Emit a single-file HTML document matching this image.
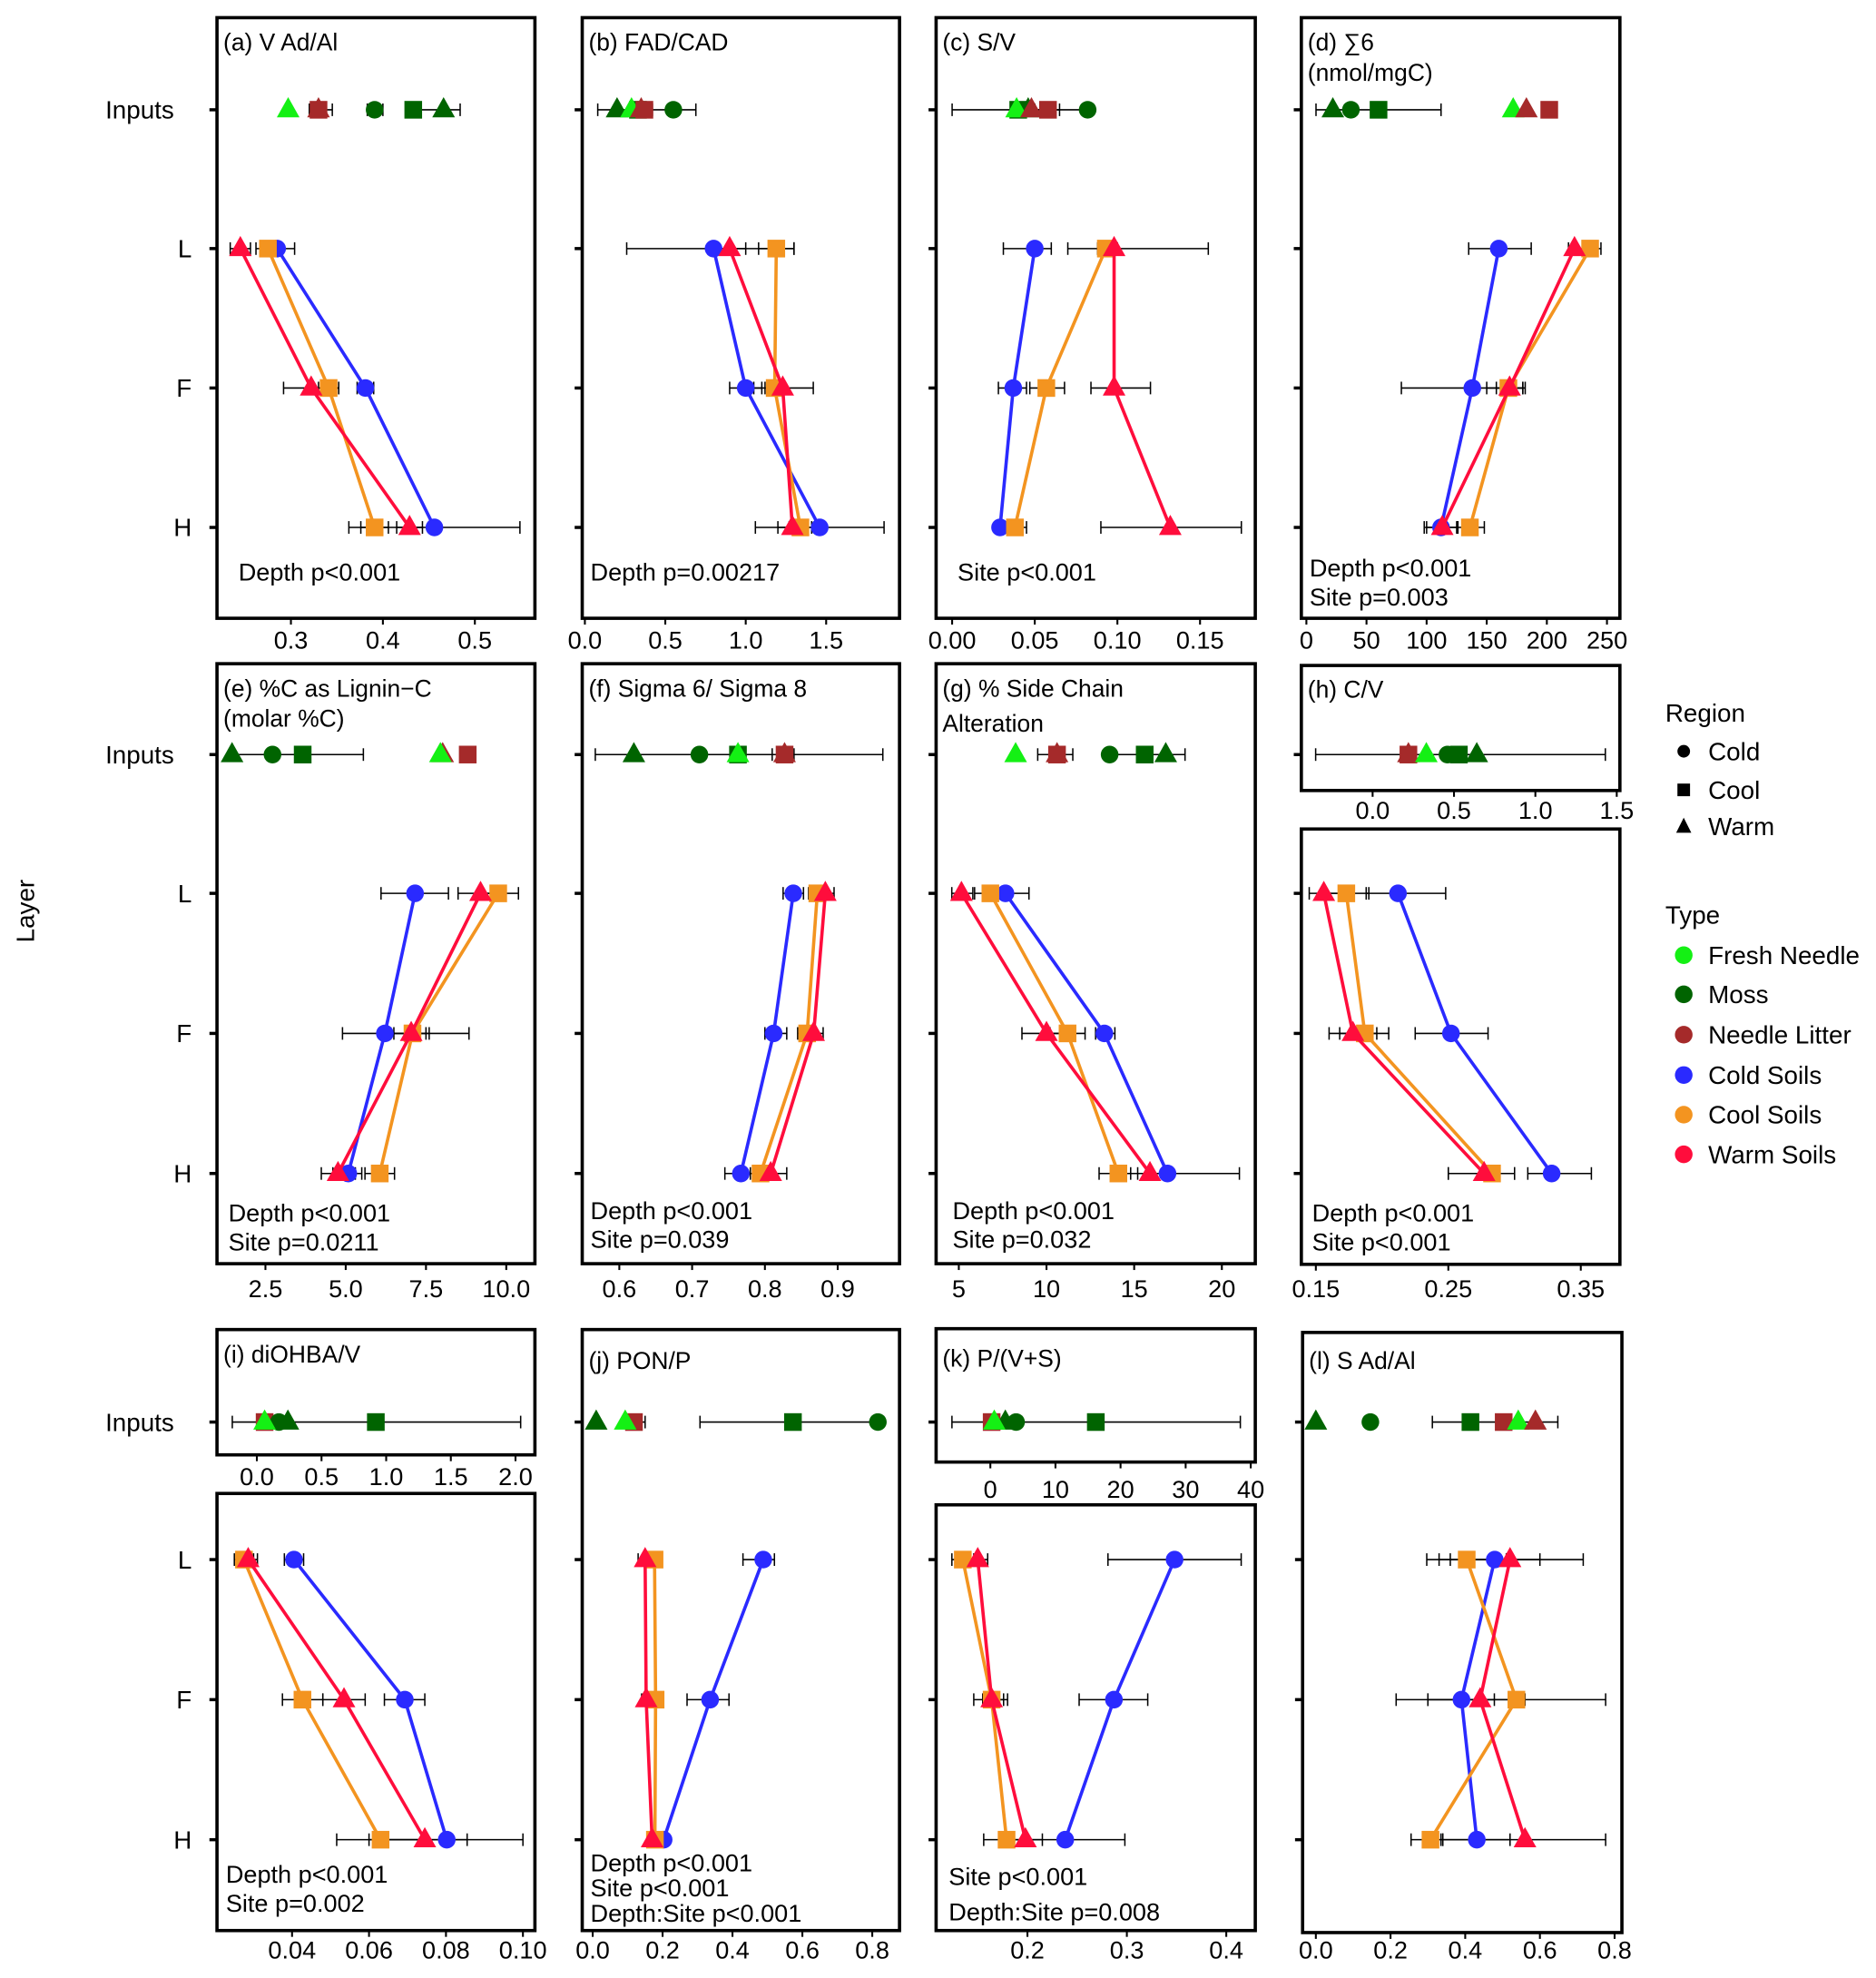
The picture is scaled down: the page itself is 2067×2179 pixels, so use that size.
<!DOCTYPE html>
<html><head><meta charset="utf-8"><style>
html,body{margin:0;padding:0;background:#fff;}
svg{display:block;font-family:"Liberation Sans",Arial,sans-serif;}
</style></head><body>
<svg id="chart" width="2067" height="2179" viewBox="0 0 1487 1567.6" preserveAspectRatio="none" xmlns="http://www.w3.org/2000/svg"></svg>
<script>
// ---------- DATA ----------
const aTicks=[0.3,0.4,0.5];
const aIn=[['M','cold',0.391,0.383,0.40],['M','cool',0.433,null,null],['M','warm',0.466,0.433,0.484],['NL','cool',0.33,0.32,0.345],['FN','warm',0.297,null,null],['NL','warm',0.33,null,null]];
const aCold=[0.285,0.381,0.456]; const aColdErr=[[0.27,0.304],[0.372,0.39],[0.363,0.549]];
const aCool=[0.275,0.341,0.391]; const aCoolErr=[[0.262,0.288],[0.33,0.352],[0.376,0.406]];
const aWarm=[0.245,0.322,0.429]; const aWarmErr=[[0.234,0.256],[0.292,0.352],[0.415,0.443]];

const bTicks=[0.0,0.5,1.0,1.5];
const bIn=[['M','cold',0.55,0.4,0.69],['M','cool',0.33,null,null],['M','warm',0.2,0.08,0.3],['FN','warm',0.29,null,null],['NL','cool',0.37,null,null],['NL','warm',0.35,0.3,0.42]];
const bCold=[0.8,1.0,1.46]; const bColdErr=[[0.26,1.3],[0.9,1.1],[1.06,1.86]];
const bCool=[1.19,1.18,1.34]; const bCoolErr=[[1.08,1.3],[1.12,1.24],[1.27,1.41]];
const bWarm=[0.9,1.23,1.29]; const bWarmErr=[[0.8,1.0],[1.05,1.42],[1.2,1.38]];

const cTicks=[0.00,0.05,0.10,0.15];
const cIn=[['M','cold',0.082,0.0,0.082],['M','cool',0.04,null,null],['M','warm',0.046,null,null],['FN','warm',0.039,null,null],['NL','warm',0.048,null,null],['NL','cool',0.058,0.05,0.065]];
const cCold=[0.05,0.037,0.029]; const cColdErr=[[0.031,0.06],[0.028,0.045],[0.027,0.033]];
const cCool=[0.093,0.057,0.038]; const cCoolErr=[[0.088,0.1],[0.047,0.068],[0.033,0.045]];
const cWarm=[0.098,0.098,0.132]; const cWarmErr=[[0.07,0.155],[0.084,0.12],[0.09,0.175]];

const dTicks=[0,50,100,150,200,250];
const dIn=[['M','warm',22,null,null],['M','cold',37,8,112],['M','cool',60,null,null],['FN','warm',172,null,null],['NL','warm',183,null,null],['NL','cool',202,null,null]];
const dCold=[160,138,112]; const dColdErr=[[135,187],[79,180],[98,126]];
const dCool=[236,168,136]; const dCoolErr=[[230,245],[150,180],[125,148]];
const dWarm=[223,169,113]; const dWarmErr=[[218,240],[158,182],[100,126]];

const eTicks=[2.5,5.0,7.5,10.0];
const eIn=[['M','warm',1.46,null,null],['M','cold',2.72,null,null],['M','cool',3.66,1.46,5.55],['NL','warm',8.02,null,null],['FN','warm',7.95,null,null],['NL','cool',8.8,null,null]];
const eCold=[7.16,6.22,5.08]; const eColdErr=[[6.1,8.2],[4.9,7.5],[4.6,5.5]];
const eCool=[9.75,7.08,6.06]; const eCoolErr=[[9.2,10.38],[6.5,8.84],[5.6,6.52]];
const eWarm=[9.2,7.04,4.76]; const eWarmErr=[[8.5,9.9],[6.4,7.6],[4.24,5.3]];

const fTicks=[0.6,0.7,0.8,0.9];
const fIn=[['M','warm',0.62,null,null],['M','cold',0.71,null,null],['M','cool',0.763,0.567,0.962],['FN','warm',0.763,null,null],['NL','cool',0.827,0.81,0.84],['NL','warm',0.827,null,null]];
const fCold=[0.839,0.812,0.767]; const fColdErr=[[0.825,0.853],[0.8,0.83],[0.745,0.79]];
const fCool=[0.872,0.858,0.794]; const fCoolErr=[[0.86,0.885],[0.845,0.87],[0.78,0.81]];
const fWarm=[0.883,0.867,0.808]; const fWarmErr=[[0.87,0.895],[0.855,0.88],[0.79,0.83]];

const gTicks=[5,10,15,20];
const gIn=[['FN','warm',8.24,null,null],['NL','cool',10.6,9.5,11.5],['NL','warm',10.6,null,null],['M','cold',13.6,13.3,null],['M','cool',15.6,13.3,17.9],['M','warm',16.8,null,null]];
const gCold=[7.66,13.3,16.9]; const gColdErr=[[6.5,9.0],[12.8,13.9],[15.9,21.0]];
const gCool=[6.8,11.2,14.1]; const gCoolErr=[[5.9,7.6],[10.2,12.2],[13.0,15.2]];
const gWarm=[5.15,10.0,15.9]; const gWarmErr=[[4.6,5.8],[8.6,11.5],[14.8,17.0]];

const hTicksTop=[0.0,0.5,1.0,1.5];
const hIn=[['M','cold',0.46,-0.35,1.43],['M','cool',0.53,null,null],['M','warm',0.64,null,null],['NL','cool',0.22,null,null],['NL','warm',0.22,null,null],['FN','warm',0.33,null,null]];
const hTicks=[0.15,0.25,0.35];
const hCold=[0.212,0.252,0.328]; const hColdErr=[[0.188,0.248],[0.225,0.28],[0.31,0.358]];
const hCool=[0.173,0.187,0.283]; const hCoolErr=[[0.158,0.19],[0.168,0.205],[0.25,0.3]];
const hWarm=[0.156,0.178,0.277]; const hWarmErr=[[0.145,0.17],[0.16,0.196],[0.25,0.3]];

const iTicksTop=[0.0,0.5,1.0,1.5,2.0];
const iIn=[['NL','cool',0.06,null,null],['M','cold',0.17,-0.19,2.04],['M','warm',0.24,null,null],['M','cool',0.92,null,null],['FN','warm',0.06,null,null]];
const iTicks=[0.04,0.06,0.08,0.10];
const iCold=[0.0405,0.0693,0.0802]; const iColdErr=[[0.038,0.043],[0.064,0.0745],[0.06,0.1]];
const iCool=[0.0275,0.0427,0.063]; const iCoolErr=[[0.025,0.03],[0.0375,0.048],[0.0516,0.0745]];
const iWarm=[0.0286,0.0535,0.0745]; const iWarmErr=[[0.027,0.031],[0.048,0.059],[0.064,0.0855]];

const jTicks=[0.0,0.2,0.4,0.6,0.8];
const jIn=[['M','warm',0.01,null,null],['NL','cool',0.118,0.09,0.15],['FN','warm',0.093,null,null],['M','cool',0.573,0.307,0.82],['M','cold',0.816,null,null]];
const jCold=[0.488,0.336,0.203]; const jColdErr=[[0.43,0.52],[0.27,0.39],[0.19,0.215]];
const jCool=[0.177,0.18,0.178]; const jCoolErr=[[0.16,0.19],[0.165,0.19],[0.17,0.185]];
const jWarm=[0.15,0.153,0.17]; const jWarmErr=[[0.13,0.17],[0.14,0.165],[0.16,0.18]];

const kTicksTop=[0,10,20,30,40];
const kIn=[['NL','cool',0.2,null,null],['M','warm',2.3,null,null],['M','cold',3.95,null,null],['FN','warm',0.6,null,null],['M','cool',16.2,-5.9,38.4]];
const kTicks=[0.2,0.3,0.4];
const kCold=[0.348,0.287,0.238]; const kColdErr=[[0.281,0.415],[0.252,0.321],[0.2,0.298]];
const kCool=[0.135,0.164,0.179]; const kCoolErr=[[0.124,0.146],[0.146,0.18],[0.156,0.2]];
const kWarm=[0.15,0.164,0.198]; const kWarmErr=[[0.138,0.16],[0.155,0.176],[0.18,0.215]];

const lTicks=[0.0,0.2,0.4,0.6,0.8];
const lIn=[['M','warm',0.0,null,null],['M','cold',0.146,null,null],['M','cool',0.414,0.312,0.5],['NL','cool',0.503,null,null],['FN','warm',0.542,null,null],['NL','warm',0.588,0.5,0.648]];
const lCold=[0.479,0.39,0.431]; const lColdErr=[[0.36,0.6],[0.3,0.478],[0.335,0.52]];
const lCool=[0.404,0.537,0.307]; const lCoolErr=[[0.297,0.51],[0.215,0.56],[0.255,0.34]];
const lWarm=[0.52,0.44,0.56]; const lWarmErr=[[0.33,0.716],[0.3,0.776],[0.34,0.776]];

// ---------- LAYOUT ----------
const COL={FN:'#14f014',M:'#006400',NL:'#a52a2a',cold:'#2a2aff',cool:'#f39420',warm:'#ff0d3c'};
const R1=[87,197,307.5,418], R2=[598,708,819,930], R3=[1127,1236,1347,1458];
const panels=[
 {id:'a',title:['(a) V Ad/Al'],box:[172,14,424,490],lv:R1,sc:[0.3,230.6,729],ticks:aTicks,dec:1,ty:507,inp:aIn,s:[aCold,aCool,aWarm],e:[aColdErr,aCoolErr,aWarmErr],st:['Depth p<0.001'],sx:189,sy:460,sd:23},
 {id:'b',title:['(b) FAD/CAD'],box:[461.5,14,713,490],lv:R1,sc:[0,463.6,127.5],ticks:bTicks,dec:1,ty:507,inp:bIn,s:[bCold,bCool,bWarm],e:[bColdErr,bCoolErr,bWarmErr],st:['Depth p=0.00217'],sx:468,sy:460,sd:23},
 {id:'c',title:['(c) S/V'],box:[742,14,995,490],lv:R1,sc:[0,754.7,1310],ticks:cTicks,dec:2,ty:507,inp:cIn,s:[cCold,cCool,cWarm],e:[cColdErr,cCoolErr,cWarmErr],st:['Site p<0.001'],sx:759,sy:460,sd:23},
 {id:'d',title:['(d) \u22116','(nmol/mgC)'],box:[1031.5,14,1284,490],lv:R1,sc:[0,1035.5,0.953],ticks:dTicks,dec:0,ty:507,inp:dIn,s:[dCold,dCool,dWarm],e:[dColdErr,dCoolErr,dWarmErr],st:['Depth p<0.001','Site p=0.003'],sx:1038,sy:457,sd:23},
 {id:'e',title:['(e) %C as Lignin\u2212C','(molar %C)'],box:[172,526,424,1001.5],lv:R2,sc:[2.5,210.4,25.45],ticks:eTicks,dec:1,ty:1021,inp:eIn,s:[eCold,eCool,eWarm],e:[eColdErr,eCoolErr,eWarmErr],st:['Depth p<0.001','Site p=0.0211'],sx:181,sy:968,sd:23},
 {id:'f',title:['(f) Sigma 6/ Sigma 8'],box:[461.5,526,713,1001.5],lv:R2,sc:[0.6,490.9,577],ticks:fTicks,dec:1,ty:1021,inp:fIn,s:[fCold,fCool,fWarm],e:[fColdErr,fCoolErr,fWarmErr],st:['Depth p<0.001','Site p=0.039'],sx:468,sy:966,sd:23},
 {id:'g',title:['(g) % Side Chain','Alteration'],box:[742,526,995,1001.5],lv:R2,sc:[5,760,13.9],ticks:gTicks,dec:0,ty:1021,inp:gIn,s:[gCold,gCool,gWarm],e:[gColdErr,gCoolErr,gWarmErr],st:['Depth p<0.001','Site p=0.032'],sx:755,sy:966,sd:23,t2dy:28},
 {id:'h',title:['(h) C/V'],split:true,tbox:[1031.5,527.4,1284,626.5],tsc:[0,1088,129],tticks:hTicksTop,tdec:1,tty:642,box:[1031.5,657,1284,1002],lv:R2,sc:[0.15,1043,1050],ticks:hTicks,dec:2,ty:1021,inp:hIn,s:[hCold,hCool,hWarm],e:[hColdErr,hCoolErr,hWarmErr],st:['Depth p<0.001','Site p<0.001'],sx:1040,sy:968,sd:23,tyTitle:553},
 {id:'i',title:['(i) diOHBA/V'],split:true,tbox:[172,1053.7,424,1153],tsc:[0,203.6,102.5],tticks:iTicksTop,tdec:1,tty:1170,box:[172,1183.6,424,1530],lv:R3,sc:[0.04,231.5,3050],ticks:iTicks,dec:2,ty:1545,inp:iIn,s:[iCold,iCool,iWarm],e:[iColdErr,iCoolErr,iWarmErr],st:['Depth p<0.001','Site p=0.002'],sx:179,sy:1492,sd:23,tyTitle:1080},
 {id:'j',title:['(j) PON/P'],box:[461.5,1053.7,713,1530],lv:R3,sc:[0,469.8,277],ticks:jTicks,dec:1,ty:1545,inp:jIn,s:[jCold,jCool,jWarm],e:[jColdErr,jCoolErr,jWarmErr],st:['Depth p<0.001','Site p<0.001','Depth:Site p<0.001'],sx:468,sy:1483,sd:20,tyTitle:1085},
 {id:'k',title:['(k) P/(V+S)'],split:true,tbox:[742,1053,995,1158.7],tsc:[0,785,5.16],tticks:kTicksTop,tdec:0,tty:1180,box:[742,1192.6,995,1530],lv:R3,sc:[0.2,814.4,788],ticks:kTicks,dec:1,ty:1545,inp:kIn,s:[kCold,kCool,kWarm],e:[kColdErr,kCoolErr,kWarmErr],st:['Site p<0.001','Depth:Site p=0.008'],sx:752,sy:1494,sd:28,tyTitle:1083},
 {id:'l',title:['(l) S Ad/Al'],box:[1032.5,1056,1285.6,1531.6],lv:R3,sc:[0,1043,296],ticks:lTicks,dec:1,ty:1545,inp:lIn,s:[lCold,lCool,lWarm],e:[lColdErr,lCoolErr,lWarmErr],st:[],sx:1040,sy:1490,sd:23,tyTitle:1085}
];
const SERIES=['cold','cool','warm'];

// ---------- DRAW ----------
const NS='http://www.w3.org/2000/svg';
const svg=document.getElementById('chart');
function el(tag,attrs,parent){const e=document.createElementNS(NS,tag);for(const k in attrs)e.setAttribute(k,attrs[k]);(parent||svg).appendChild(e);return e;}
function txt(s,x,y,size,anchor,parent){const t=el('text',{x:x,y:y,'font-size':size,'text-anchor':anchor||'start',fill:'#000'},parent);t.textContent=s;return t;}
function scaleFn(sc){return v=>sc[1]+(v-sc[0])*sc[2];}
function marker(region,x,y,color,parent){
  let m;
  if(region==='cold'){m=el('circle',{cx:x,cy:y,r:7,fill:color},parent);}
  else if(region==='cool'){m=el('rect',{x:x-7,y:y-7,width:14,height:14,fill:color},parent);}
  else {m=el('polygon',{points:`${x},${y-10} ${x-9},${y+6} ${x+9},${y+6}`,fill:color},parent);}
  return m;
}
function errbar(lo,hi,y,parent){
  const g=el('g',{stroke:'#000','stroke-width':1.1},parent);
  el('line',{x1:lo,y1:y,x2:hi,y2:y},g);
  el('line',{x1:lo,y1:y-5,x2:lo,y2:y+5},g);
  el('line',{x1:hi,y1:y-5,x2:hi,y2:y+5},g);
  return g;
}
function frame(b,parent){return el('rect',{x:b[0],y:b[1],width:b[2]-b[0],height:b[3]-b[1],fill:'none',stroke:'#000','stroke-width':2.6},parent);}
function xaxis(ticks,dec,X,b,ty,parent){
  const g=el('g',{},parent);
  ticks.forEach(v=>{
    const x=X(v);
    el('line',{x1:x,y1:b[3],x2:x,y2:b[3]+5,stroke:'#000','stroke-width':1.5},g);
    txt(v.toFixed(dec),x,ty+7,19.5,'middle',g);
  });
  return g;
}
function ltick(x,y,parent){return el('line',{x1:x-6,y1:y,x2:x,y2:y,stroke:'#000','stroke-width':2.5},parent);}

panels.forEach(p=>{
  const g=el('g',{});
  
  
  const X=scaleFn(p.sc);
  const XI=p.split?scaleFn(p.tsc):X;
  const ib=p.split?p.tbox:p.box;
  const f1=frame(p.box,g);
  
  
  if(p.split){const f2=frame(p.tbox,g);
    
    }
  ltick(ib[0],p.lv[0],g);
  for(let i=1;i<4;i++)ltick(p.box[0],p.lv[i],g);
  const ax=xaxis(p.ticks,p.dec,X,p.box,p.ty,g);
  
  
  if(p.split){const ax2=xaxis(p.tticks,p.tdec,XI,p.tbox,p.tty,g);
    
    }
  const ty=p.tyTitle||(p.box[1]+26);
  const tg=el('g',{},g);
  
  
  p.title.forEach((s,i)=>txt(s,ib[0]+5,ty+i*(p.t2dy||24),19,'start',tg));
  const sg=el('g',{},g);
  
  
  p.st.forEach((s,i)=>txt(s,p.sx,p.sy+i*p.sd,19.5,'start',sg));
  const yi=p.lv[0];
  p.inp.forEach(d=>{ if(d[3]!==null&&d[4]!==null){const eb=errbar(XI(d[3]),XI(d[4]),yi,g);
    
    }});
  p.inp.forEach(d=>{const m=marker(d[1],XI(d[2]),yi,COL[d[0]],g);
    
    });
  p.e.forEach((es,si)=>es.forEach((r,li)=>{const eb=errbar(X(r[0]),X(r[1]),p.lv[li+1],g);
    
    }));
  p.s.forEach((vals,si)=>{
    const pts=vals.map((v,li)=>X(v)+','+p.lv[li+1]).join(' ');
    const pl=el('polyline',{points:pts,fill:'none',stroke:COL[SERIES[si]],'stroke-width':2.6},g);
    
    
    vals.forEach((v,li)=>{const m=marker(SERIES[si],X(v),p.lv[li+1],COL[SERIES[si]],g);
      
      });
  });
});

const yl=el('g',{});


[R1,R2,R3].forEach(r=>{
  txt('Inputs',138,r[0]+7,20,'end',yl);
  ['L','F','H'].forEach((s,i)=>txt(s,152,r[i+1]+7,20,'end',yl));
});
const lay=txt('Layer',0,0,20,'middle',svg);
lay.setAttribute('transform','translate(27,722) rotate(-90)');



const lg=el('g',{});


txt('Region',1320,572,20,'start',lg);
[['cold','Cold',595.4],['cool','Cool',626],['warm','Warm',655]].forEach(r=>{
  const m=r[0]==='cold'?el('circle',{cx:1334.6,cy:r[2],r:5,fill:'#000'},lg):r[0]==='cool'?el('rect',{x:1329.6,y:r[2]-5,width:10,height:10,fill:'#000'},lg):el('polygon',{points:`1334.6,${r[2]-7} 1328.6,${r[2]+5} 1340.6,${r[2]+5}`,fill:'#000'},lg);
  
  
  txt(r[1],1354,r[2]+7,20,'start',lg);
});
txt('Type',1320,732,20,'start',lg);
[['FN','Fresh Needle',757],['M','Moss',788],['NL','Needle Litter',820],['cold','Cold Soils',852],['cool','Cool Soils',883.4],['warm','Warm Soils',914.8]].forEach(r=>{
  const c=el('circle',{cx:1334.6,cy:r[2],r:7,fill:COL[r[0]]},lg);
  
  
  txt(r[1],1354,r[2]+7,20,'start',lg);
});
</script>
</body></html>
